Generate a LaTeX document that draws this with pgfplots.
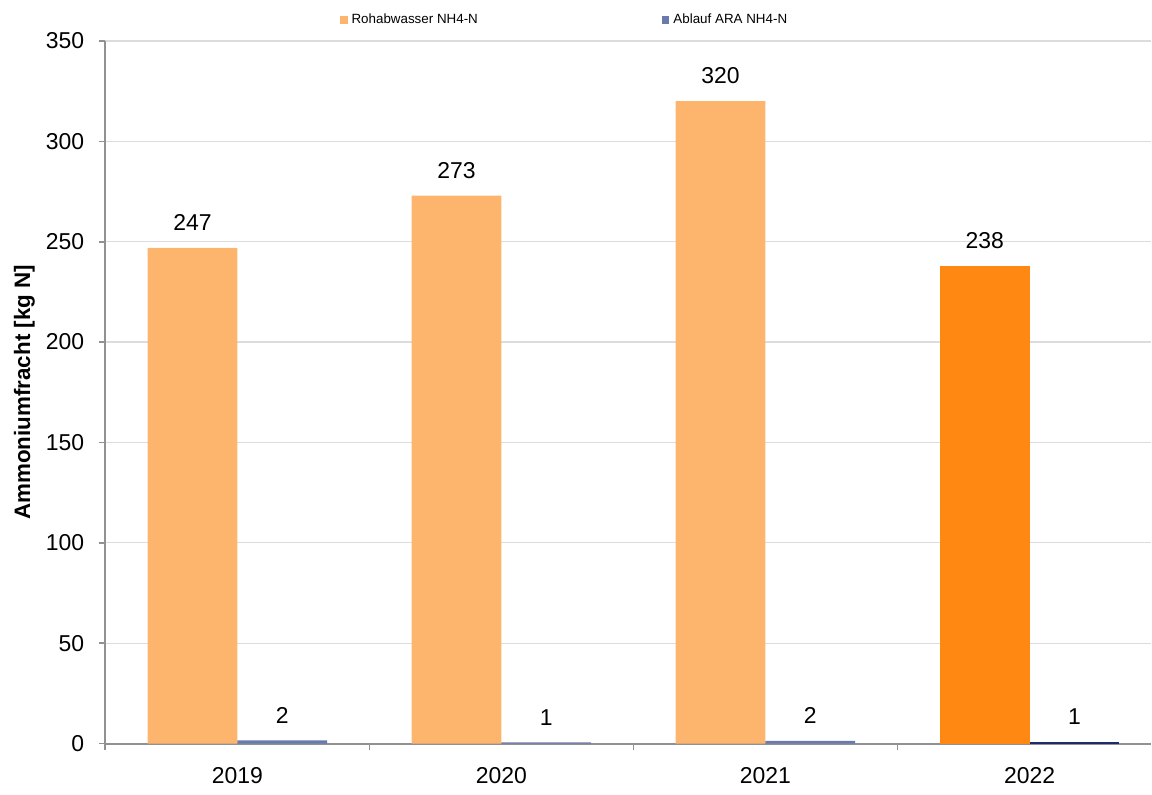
\documentclass[border=0pt]{standalone}
\usepackage{pgfplots}
\pgfplotsset{compat=1.18}
\usepackage{fontspec}
\setmainfont{Liberation Sans}

\definecolor{rohlight}{RGB}{253,181,110}
\definecolor{rohdark}{RGB}{255,136,18}
\definecolor{abllight}{RGB}{107,122,174}
\definecolor{abldark}{RGB}{31,42,107}
\definecolor{axgray}{RGB}{145,145,145}
\definecolor{gridgray}{RGB}{220,220,220}

\begin{document}
\begin{tikzpicture}
\begin{axis}[
    scale only axis,
    width=524pt, height=352pt,
    ybar,
    bar width=0.34,
    xmin=-0.5, xmax=3.46,
    ymin=0, ymax=350,
    ytick={0,50,...,350},
    xtick={-0.5,0.5,1.5,2.5},
    xticklabels={},
    extra x ticks={0,1,2,3},
    extra x tick labels={2019,2020,2021,2022},
    extra x tick style={major tick length=0pt, xticklabel style={yshift=-4pt, inner ysep=5pt}},
    ymajorgrids,
    grid style={gridgray, line width=0.6pt},
    axis x line*=bottom,
    axis y line*=left,
    axis line style={axgray, line width=1pt, -},
    tick style={axgray, line width=0.8pt},
    tick align=outside,
    major tick length=3pt,
    ticklabel style={font=\fontsize{11.5}{13}\selectfont, /pgf/number format/assume math mode=true},
    xticklabel style={yshift=-3pt},
    yticklabel style={xshift=-4pt},
    ylabel={\textbf{Ammoniumfracht [kg N]}},
    ylabel style={font=\fontsize{11.2}{13}\selectfont, inner sep=7pt, yshift=-5pt},
    point meta=explicit symbolic,
    nodes near coords={\pgfplotspointmeta},
    nodes near coords style={font=\fontsize{11.5}{13}\selectfont, yshift=5pt},
    legend columns=2,
    legend style={draw=none, fill=none, at={(0.44,1.0)}, anchor=south,
        inner ysep=5pt,
        font=\fontsize{6.7}{8}\selectfont,
        /tikz/every even column/.append style={column sep=90pt}},
    legend image code/.code={\fill[#1] (0pt,-2pt) rectangle (4pt,2pt);},
    clip=false,
]
\addplot[fill=rohlight, draw=none, bar shift=-0.17] coordinates {
    (0,247) [247] (1,273) [273] (2,320) [320]
};
\addlegendentry{Rohabwasser NH4-N}
\addplot[fill=abllight, draw=none, bar shift=0.17] coordinates {
    (0,1.6) [2] (1,0.6) [1] (2,1.3) [2]
};
\addlegendentry{Ablauf ARA NH4-N}
\addplot[fill=rohdark, draw=none, bar shift=-0.17, forget plot] coordinates {
    (3,238) [238]
};
\addplot[fill=abldark, draw=none, bar shift=0.17, forget plot] coordinates {
    (3,0.8) [1]
};
\end{axis}
\end{tikzpicture}
\end{document}
